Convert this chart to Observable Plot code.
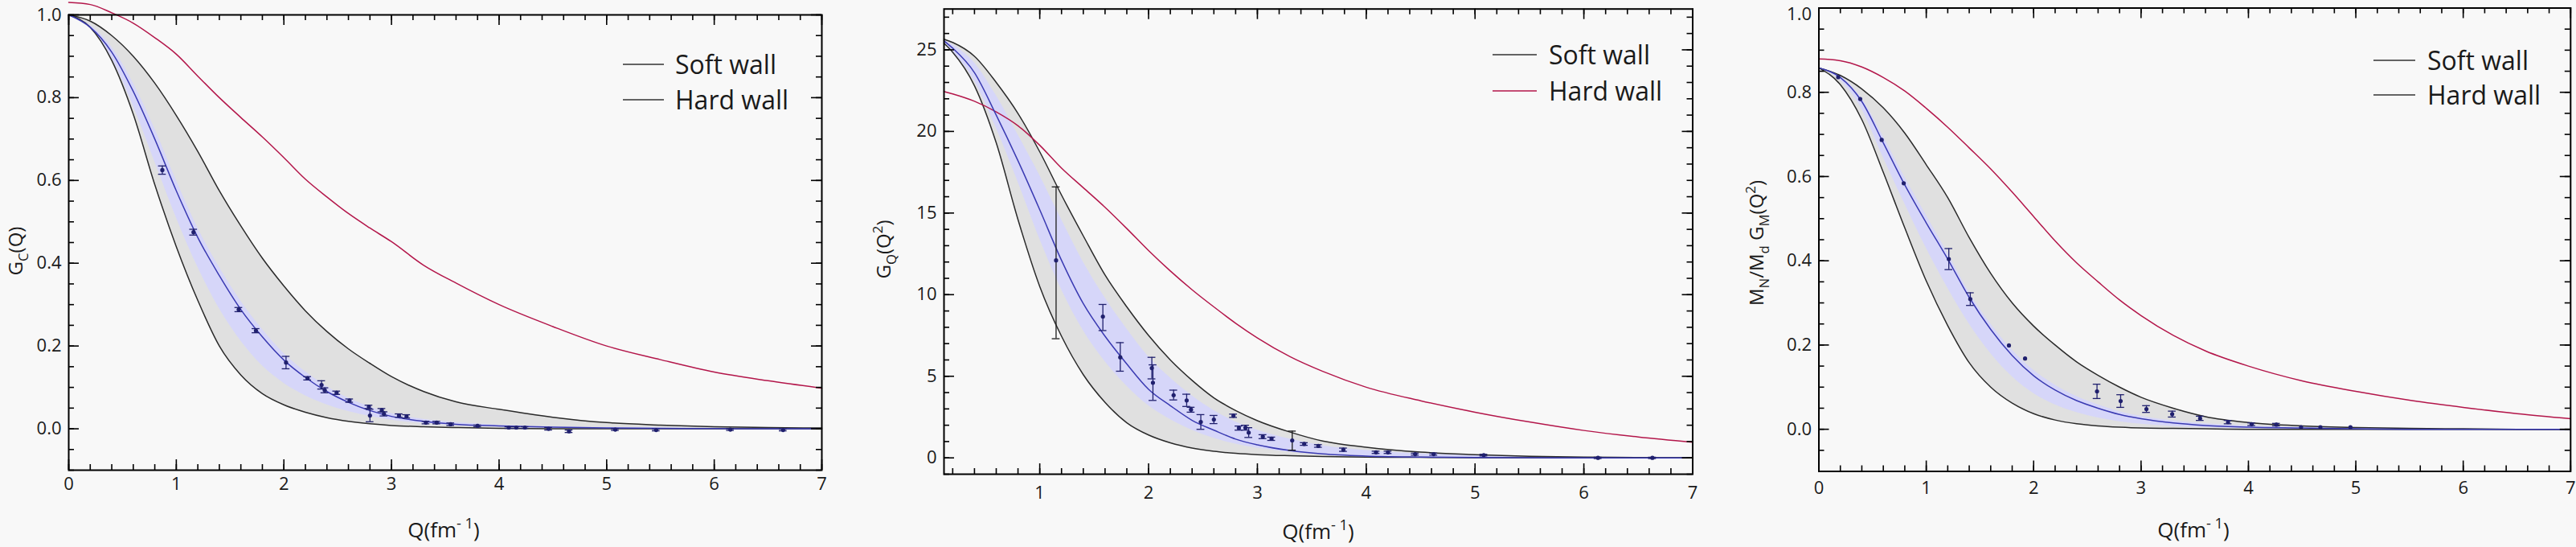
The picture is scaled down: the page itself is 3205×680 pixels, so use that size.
<!DOCTYPE html>
<html><head><meta charset="utf-8">
<script src="https://cdn.jsdelivr.net/npm/d3@7"></script>
<script src="https://cdn.jsdelivr.net/npm/@observablehq/plot@0.6"></script>
<style>
body{margin:0;background:#f8f8f8;}
#wrap{position:relative;width:3205px;height:680px;overflow:hidden;background:#f8f8f8;font-family:"Open Sans",sans-serif;}
#wrap svg{position:absolute;top:0;}
</style></head><body><div id="wrap"></div>
<script>
// ---------- Panel 1 : G_C(Q) ----------
const q1 = [0,0.2,0.4,0.6,0.8,1.0,1.2,1.4,1.6,1.8,2.0,2.2,2.4,2.6,2.8,3.0,3.3,3.6,4.0,4.5,5.0,5.5,6.0,6.5,7.0];
const p1Hard = [1.03,1.025,1.005,0.98,0.945,0.905,0.852,0.80,0.752,0.705,0.655,0.603,0.56,0.52,0.485,0.452,0.395,0.352,0.30,0.247,0.20,0.167,0.137,0.116,0.098];
const p1Up   = [1.0,0.985,0.95,0.9,0.835,0.757,0.67,0.575,0.49,0.412,0.345,0.285,0.235,0.193,0.158,0.126,0.09,0.065,0.047,0.028,0.015,0.009,0.005,0.003,0.002];
const p1Lo   = [1.0,0.97,0.89,0.76,0.59,0.44,0.31,0.20,0.13,0.085,0.058,0.04,0.027,0.018,0.012,0.008,0.005,0.003,0.001,0,0,0,0,0,0];
const p1Fit  = [1.0,0.97,0.91,0.815,0.70,0.575,0.462,0.37,0.288,0.222,0.166,0.124,0.09,0.064,0.044,0.03,0.018,0.011,0.007,0.004,0.002,0.001,0.0005,0,0];
const p1BLo  = [1.0,0.968,0.895,0.78,0.645,0.51,0.39,0.29,0.212,0.152,0.11,0.08,0.058,0.042,0.03,0.021,0.013,0.008,0.004,0.002,0.001,0,0,0,0];
const p1BUp  = [1.0,0.975,0.922,0.835,0.725,0.6,0.485,0.39,0.308,0.24,0.182,0.138,0.102,0.074,0.053,0.037,0.023,0.015,0.009,0.005,0.003,0.002,0.001,0,0];
const p1PtQ  = [0.87,1.16,1.58,1.74,2.02,2.22,2.35,2.38,2.49,2.61,2.79,2.80,2.91,2.93,3.07,3.14,3.32,3.42,3.55,3.80,4.09,4.16,4.24,4.46,4.65,5.08,5.46,6.15,6.64];
const p1PtG  = [0.625,0.475,0.288,0.237,0.160,0.122,0.106,0.093,0.087,0.068,0.053,0.032,0.045,0.036,0.032,0.030,0.015,0.015,0.011,0.007,0.003,0.003,0.003,0.0,-0.006,-0.002,-0.003,-0.002,-0.003];
const p1PtE  = [0.010,0.007,0.005,0.005,0.015,0.004,0.010,0.006,0.004,0.004,0.004,0.015,0.004,0.005,0.004,0.004,0.003,0.003,0.003,0.002,0.002,0.002,0.002,0.003,0.003,0.002,0.002,0.002,0.002];

// ---------- Panel 2 : G_Q(Q^2) ----------
const q2 = [0.12,0.2,0.4,0.6,0.8,1.0,1.2,1.4,1.6,1.8,2.0,2.2,2.4,2.6,2.8,3.0,3.3,3.6,4.0,4.5,5.0,5.5,6.0,6.5,7.0];
const p2Hard = [22.45,22.3,21.85,21.2,20.35,19.15,17.75,16.55,15.35,14.05,12.7,11.45,10.3,9.25,8.25,7.35,6.2,5.3,4.33,3.5,2.8,2.2,1.68,1.28,0.96];
const p2Up   = [25.65,25.45,24.6,23.0,21.1,18.75,16.1,13.6,11.2,9.25,7.5,6.0,4.75,3.68,2.9,2.28,1.58,1.03,0.65,0.35,0.2,0.1,0.05,0.02,0.01];
const p2Lo   = [25.4,24.85,22.8,19.3,14.6,10.5,7.45,5.1,3.4,2.15,1.4,0.92,0.6,0.4,0.28,0.2,0.13,0.08,0.05,0.03,0.015,0.01,0.005,0,0];
const p2Fit  = [25.55,25.1,23.6,21.0,18.2,15.2,12.1,9.45,7.45,5.75,4.2,3.2,2.3,1.7,1.15,0.8,0.45,0.24,0.11,0.05,0.02,0.01,0,0,0];
const p2BLo  = [25.5,24.9,23.1,20.2,16.9,13.4,10.3,7.8,5.9,4.4,3.2,2.35,1.7,1.2,0.85,0.6,0.35,0.2,0.1,0.04,0.02,0.01,0,0,0];
const p2BUp  = [25.6,25.3,24.2,22.2,19.8,17.3,14.6,12.0,9.8,7.9,6.2,4.9,3.8,2.9,2.2,1.7,1.15,0.75,0.45,0.25,0.14,0.07,0.03,0.01,0];
const p2PtQ  = [1.15,1.58,1.74,2.03,2.04,2.23,2.35,2.39,2.48,2.60,2.78,2.83,2.89,2.92,3.05,3.13,3.32,3.43,3.56,3.79,4.09,4.20,4.45,4.62,5.08,6.13,6.63];
const p2PtG  = [12.1,8.66,6.16,5.5,4.6,3.84,3.52,2.96,2.2,2.35,2.58,1.83,1.85,1.55,1.3,1.17,1.07,0.85,0.73,0.5,0.34,0.34,0.23,0.23,0.17,0.0,0.0];
const p2PtLo = [7.3,7.8,5.31,4.84,3.52,3.55,3.15,2.8,1.75,2.1,2.48,1.7,1.7,1.25,1.18,1.07,0.47,0.77,0.65,0.4,0.27,0.27,0.17,0.17,0.12,-0.04,-0.04];
const p2PtHi = [16.6,9.4,7.06,6.16,5.7,4.15,3.9,3.1,2.65,2.6,2.68,1.95,2.0,1.85,1.42,1.27,1.64,0.93,0.81,0.6,0.41,0.41,0.29,0.29,0.22,0.04,0.04];
const p2PtBlack = [true,false,false,false,false,false,false,false,false,false,false,false,false,false,false,false,true,false,false,false,false,false,false,false,false,false,false];

// ---------- Panel 3 : M_N/M_d G_M(Q^2) ----------
const q3 = [0,0.2,0.4,0.6,0.8,1.0,1.2,1.4,1.6,1.8,2.0,2.2,2.4,2.6,2.8,3.0,3.3,3.6,4.0,4.5,5.0,5.5,6.0,6.5,7.0];
const p3Hard = [0.879,0.875,0.86,0.835,0.803,0.762,0.717,0.668,0.618,0.563,0.505,0.447,0.395,0.35,0.307,0.27,0.223,0.186,0.15,0.115,0.09,0.069,0.052,0.037,0.025];
const p3Up   = [0.858,0.84,0.808,0.763,0.703,0.628,0.55,0.455,0.37,0.3,0.245,0.2,0.16,0.128,0.1,0.076,0.05,0.03,0.016,0.008,0.004,0.002,0.001,0,0];
const p3Lo   = [0.858,0.818,0.735,0.61,0.478,0.352,0.246,0.158,0.1,0.062,0.037,0.022,0.013,0.008,0.005,0.003,0.002,0.001,0,0,0,0,0,0,0];
const p3Fit  = [0.858,0.835,0.778,0.68,0.58,0.49,0.404,0.313,0.237,0.175,0.127,0.093,0.068,0.05,0.035,0.025,0.015,0.009,0.005,0.003,0.001,0,0,0,0];
const p3BLo  = [0.858,0.828,0.76,0.645,0.535,0.43,0.335,0.25,0.18,0.125,0.085,0.058,0.04,0.027,0.018,0.012,0.007,0.004,0.002,0,0,0,0,0,0];
const p3BUp  = [0.858,0.838,0.785,0.695,0.598,0.508,0.418,0.325,0.25,0.188,0.14,0.105,0.078,0.058,0.042,0.031,0.02,0.013,0.008,0.004,0.002,0.001,0,0,0];
const p3PtQ  = [0.18,0.385,0.585,0.79,1.21,1.41,1.77,1.92,2.59,2.81,3.05,3.29,3.55,3.81,4.03,4.26,4.49,4.67,4.95];
const p3PtG  = [0.836,0.784,0.687,0.584,0.404,0.309,0.199,0.168,0.090,0.067,0.048,0.036,0.026,0.017,0.012,0.011,0.005,0.005,0.005];
const p3PtE  = [0,0,0,0,0.025,0.015,0,0,0.017,0.015,0.008,0.007,0.005,0.004,0.003,0.003,0,0,0];

// ---------- Axis ticks / labels ----------
const xLabels13 = [0,1,2,3,4,5,6,7];
const xLabels2  = [1,2,3,4,5,6,7];
const yLabels13 = [0,0.2,0.4,0.6,0.8,1.0];
const yLabels2  = [0,5,10,15,20,25];
const legendNames = ["Soft wall","Hard wall"];

const xMinor13 = d3.range(0, 7.001, 0.2);
const xMinor2  = d3.range(0.2, 7.001, 0.2);
const yMinor13 = d3.range(-0.1, 1.0001, 0.05);
const yMinor2  = d3.range(-1, 27.5, 1);

const wrap = document.getElementById("wrap");
const INK = "#1a1a1a";

function richText(svg, x, y, parts, size, rotate) {
  const t = d3.select(svg).append("text")
    .attr("transform", `translate(${x},${y})` + (rotate ? " rotate(-90)" : ""))
    .attr("text-anchor", "middle").attr("font-size", size)
    .attr("font-family", '"Open Sans", sans-serif').attr("fill", INK);
  let off = 0;
  for (const [s, k] of parts) {
    const target = k === "sub" ? 0.28 * size : k === "sup" ? -0.42 * size : 0;
    const sp = t.append("tspan").text(s).attr("dy", target - off);
    if (k) sp.attr("font-size", size * 0.7);
    off = target;
  }
}

function legend(svg, lx1, lx2, tx, ys, colors) {
  const g = d3.select(svg).append("g");
  legendNames.forEach((name, i) => {
    g.append("line").attr("x1", lx1).attr("x2", lx2).attr("y1", ys[i]).attr("y2", ys[i])
      .attr("stroke", colors[i]).attr("stroke-width", 1.6);
    g.append("text").attr("x", tx).attr("y", ys[i]).attr("dy", "0.36em").attr("text-anchor", "start")
      .attr("font-size", 32).attr("font-family", '"Open Sans", sans-serif').attr("fill", INK).text(name);
  });
}

function panel(c) {
  const H = 680;
  const innerW = c.width - c.ml - c.mr, innerH = H - c.mt - c.mb;
  const rows = c.q.map((q, i) => ({q, up: c.up[i], lo: c.lo[i], bUp: c.bUp[i], bLo: c.bLo[i], fit: c.fit[i], hard: c.hard[i]}));
  const bars = c.pts.filter(d => d.hi > d.lo);
  const cap = 0.036;
  const ln = {x: "q", curve: "monotone-x", strokeWidth: 1.5};
  const tk = {stroke: "#000", strokeWidth: 1.6};
  const MJ = 13, MN = 7;
  const topLab = c.yMajor[c.yMajor.length - 1];
  const svg = Plot.plot({
    width: c.width, height: H,
    marginLeft: c.ml, marginRight: c.mr, marginTop: c.mt, marginBottom: c.mb,
    style: {background: "transparent", fontFamily: '"Open Sans", sans-serif', fontSize: "22px", color: INK, overflow: "visible"},
    x: {domain: c.xDomain, axis: null},
    y: {domain: c.yDomain, axis: null},
    marks: [
      Plot.areaY(rows, {x: "q", y1: "lo", y2: "up", fill: "#e0e0e0", curve: "monotone-x"}),
      Plot.areaY(rows, {x: "q", y1: "bLo", y2: "bUp", fill: "#d6d6f9", curve: "monotone-x"}),
      Plot.lineY(rows, {...ln, y: "up", stroke: "#2a2a2a"}),
      Plot.lineY(rows, {...ln, y: "lo", stroke: "#2a2a2a"}),
      Plot.lineY(rows, {...ln, y: "hard", stroke: "#b3164a"}),
      Plot.lineY(rows, {...ln, y: "fit", stroke: "#3a3ab2"}),
      Plot.ruleX(bars, {x: "q", y1: "lo", y2: "hi", stroke: "c", strokeWidth: 1.3}),
      Plot.ruleY(bars, {y: "lo", x1: d => d.q - cap, x2: d => d.q + cap, stroke: "c", strokeWidth: 1.3}),
      Plot.ruleY(bars, {y: "hi", x1: d => d.q - cap, x2: d => d.q + cap, stroke: "c", strokeWidth: 1.3}),
      Plot.dot(c.pts, {x: "q", y: "g", r: 2.6, fill: "#20206e", stroke: "none"}),
      Plot.frame({stroke: "#000", strokeWidth: 2}),
      Plot.ruleX(c.xMajor, {...tk, insetTop: innerH - MJ}),
      Plot.ruleX(c.xMajor, {...tk, insetBottom: innerH - MJ}),
      Plot.ruleX(c.xMinor, {...tk, insetTop: innerH - MN}),
      Plot.ruleX(c.xMinor, {...tk, insetBottom: innerH - MN}),
      Plot.ruleY(c.yMajor, {...tk, insetRight: innerW - MJ}),
      Plot.ruleY(c.yMajor, {...tk, insetLeft: innerW - MJ}),
      Plot.ruleY(c.yMinor, {...tk, insetRight: innerW - MN}),
      Plot.ruleY(c.yMinor, {...tk, insetLeft: innerW - MN}),
      Plot.axisX(c.xMajor, {tickSize: 0, tickPadding: c.xPad, label: null, tickFormat: d => String(d)}),
      Plot.axisY(c.yMajor.slice(0, -1), {tickSize: 0, tickPadding: 9, label: null, tickFormat: c.yFmt}),
      Plot.axisY([topLab], {tickSize: 0, tickPadding: 9, label: null, tickFormat: c.yFmt, dy: c.topDy})
    ]
  });
  svg.style.left = c.left + "px";
  wrap.appendChild(svg);
  richText(svg, c.yl[0], c.yl[1], c.ylParts, 24, true);
  richText(svg, c.xl[0], c.xl[1], [["Q(fm"], ["- 1", "sup"], [")"]], 26, false);
  legend(svg, c.leg[0], c.leg[1], c.leg[2], c.leg[3], c.legColors);
}

const f1 = d3.format(".1f");
panel({
  left: 0, width: 1070, ml: 85, mr: 48, mt: 18, mb: 96, xDomain: [0, 7], yDomain: [-0.1, 1.0],
  q: q1, hard: p1Hard, up: p1Up, lo: p1Lo, fit: p1Fit, bLo: p1BLo, bUp: p1BUp,
  pts: p1PtQ.map((q, i) => ({q, g: p1PtG[i], lo: p1PtG[i] - p1PtE[i], hi: p1PtG[i] + p1PtE[i], c: "#20206e"})),
  xMajor: xLabels13, xMinor: xMinor13, yMajor: yLabels13, yMinor: yMinor13, yFmt: f1, xPad: 9, topDy: 0,
  yl: [28, 312], ylParts: [["G"], ["C", "sub"], ["(Q)"]], xl: [552, 668],
  leg: [775, 826, 840, [80, 124]], legColors: ["#333", "#333"]
});
panel({
  left: 1070, width: 1070, ml: 104, mr: 34.5, mt: 10.7, mb: 91, xDomain: [0.12, 7], yDomain: [-1, 27.5],
  q: q2, hard: p2Hard, up: p2Up, lo: p2Lo, fit: p2Fit, bLo: p2BLo, bUp: p2BUp,
  pts: p2PtQ.map((q, i) => ({q, g: p2PtG[i], lo: p2PtLo[i], hi: p2PtHi[i], c: p2PtBlack[i] ? "#1a1a1a" : "#20206e"})),
  xMajor: xLabels2, xMinor: xMinor2, yMajor: yLabels2, yMinor: yMinor2, yFmt: d => String(d), xPad: 15, topDy: 0,
  yl: [38, 310], ylParts: [["G"], ["Q", "sub"], ["(Q"], ["2", "sup"], [")"]], xl: [570, 670],
  leg: [787, 842, 857, [68, 113]], legColors: ["#333", "#b3164a"]
});
panel({
  left: 2140, width: 1065, ml: 122.5, mr: 7.2, mt: 9.5, mb: 94.5, xDomain: [0, 7], yDomain: [-0.1, 1.0],
  q: q3, hard: p3Hard, up: p3Up, lo: p3Lo, fit: p3Fit, bLo: p3BLo, bUp: p3BUp,
  pts: p3PtQ.map((q, i) => ({q, g: p3PtG[i], lo: p3PtG[i] - p3PtE[i], hi: p3PtG[i] + p3PtE[i], c: "#20206e"})),
  xMajor: xLabels13, xMinor: xMinor13, yMajor: yLabels13, yMinor: yMinor13, yFmt: f1, xPad: 12, topDy: 8,
  yl: [54, 302], ylParts: [["M"], ["N", "sub"], ["/M"], ["d", "sub"], [" G"], ["M", "sub"], ["(Q"], ["2", "sup"], [")"]], xl: [589, 668],
  leg: [813, 865, 880, [75, 118]], legColors: ["#333", "#333"]
});
</script></body></html>
